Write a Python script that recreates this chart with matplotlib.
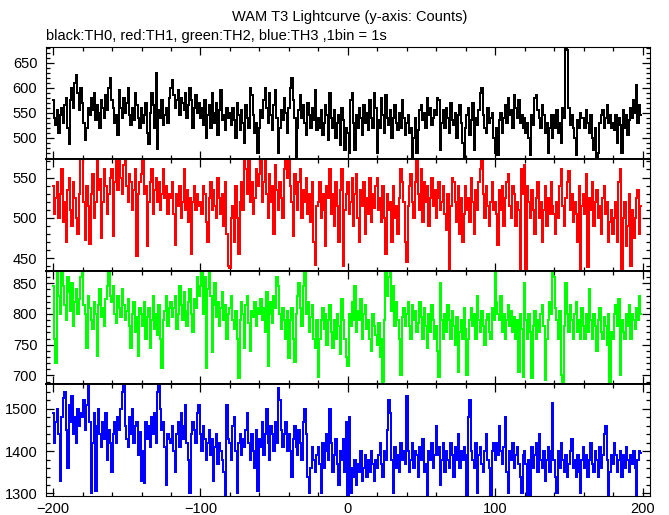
import numpy as np
import matplotlib
matplotlib.use("Agg")
import matplotlib.pyplot as plt
from matplotlib.ticker import MultipleLocator

plt.rcParams['font.family'] = ['Liberation Sans', 'DejaVu Sans']

title = "WAM T3 Lightcurve (y-axis: Counts)"
subtitle = "black:TH0, red:TH1, green:TH2, blue:TH3 ,1bin = 1s"

time_s = list(range(-200, 200))

th0 = [
    575, 540, 525, 555, 510, 545, 560, 530, 565, 580, 520, 488, 575, 600, 560, 610, 625, 590, 555, 600,
    570, 530, 495, 520, 560, 545, 580, 555, 590, 535, 565, 550, 520, 575, 560, 540, 585, 555, 600, 620,
    575, 560, 530, 545, 505, 595, 560, 540, 580, 550, 570, 600, 545, 525, 560, 535, 590, 565, 540, 520,
    560, 530, 545, 570, 510, 488, 550, 590, 565, 520, 630, 478, 555, 540, 575, 525, 545, 560, 530, 580,
    600, 615, 585, 560, 575, 595, 545, 580, 570, 555, 590, 540, 565, 600, 575, 520, 560, 585, 550, 570,
    540, 560, 525, 575, 500, 545, 565, 520, 590, 550, 530, 570, 505, 555, 595, 535, 545, 515, 560, 540,
    550, 525, 560, 535, 500, 570, 545, 515, 555, 530, 490, 565, 540, 520, 600, 585, 545, 510, 530, 470,
    520, 555, 540, 575, 600, 560, 530, 590, 545, 515, 565, 595, 540, 470, 520, 555, 535, 580, 550, 510,
    560, 600, 620, 575, 540, 458, 520, 555, 585, 540, 565, 530, 505, 570, 545, 520, 560, 535, 595, 515,
    540, 520, 555, 505, 530, 565, 545, 495, 590, 540, 520, 555, 500, 530, 545, 485, 560, 535, 475, 520,
    510, 470, 575, 590, 530, 475, 545, 520, 560, 540, 505, 565, 530, 550, 515, 575, 540, 520, 590, 560,
    470, 535, 520, 580, 545, 510, 585, 540, 525, 555, 500, 540, 565, 530, 515, 550, 520, 575, 540, 505,
    530, 545, 510, 520, 462, 500, 540, 470, 515, 555, 565, 535, 550, 520, 580, 545, 560, 525, 540, 555,
    545, 580, 575, 475, 530, 555, 520, 560, 540, 510, 570, 535, 525, 550, 500, 545, 565, 530, 490, 458,
    520, 545, 560, 505, 535, 570, 475, 540, 525, 555, 590, 600, 545, 520, 510, 560, 530, 540, 550, 500,
    470, 520, 465, 535, 550, 510, 540, 565, 530, 580, 545, 555, 520, 585, 560, 540, 575, 530, 545, 520,
    540, 510, 530, 500, 465, 545, 525, 580, 585, 555, 540, 520, 565, 545, 510, 530, 470, 520, 545, 500,
    545, 520, 555, 510, 530, 490, 560, 540, 690, 675, 560, 525, 545, 520, 500, 465, 535, 520, 550, 540,
    540, 520, 555, 530, 510, 545, 500, 475, 520, 460, 470, 530, 545, 555, 520, 540, 565, 530, 545, 520,
    530, 515, 545, 490, 540, 525, 470, 555, 520, 545, 505, 535, 560, 540, 575, 550, 605, 530, 565, 545,
]

th1 = [
    540, 505, 525, 545, 500, 530, 560, 495, 520, 470, 535, 550, 510, 490, 545, 525, 500, 480, 530, 575,
    575, 520, 472, 540, 515, 468, 530, 555, 500, 520, 575, 535, 548, 475, 520, 560, 540, 505, 530, 550,
    560, 478, 545, 570, 535, 575, 550, 530, 565, 575, 540, 520, 555, 545, 510, 535, 560, 452, 530, 545,
    555, 575, 530, 540, 465, 520, 545, 560, 505, 535, 550, 520, 545, 510, 530, 560, 525, 540, 505, 530,
    525, 545, 505, 466, 530, 515, 540, 500, 520, 560, 510, 535, 495, 525, 455, 520, 540, 510, 530, 515,
    520, 505, 540, 530, 495, 470, 525, 545, 510, 535, 515, 500, 550, 525, 505, 530, 490, 545, 480, 440,
    438, 500, 515, 470, 540, 500, 455, 520, 545, 510, 575, 560, 530, 575, 520, 545, 505, 525, 560, 540,
    555, 575, 520, 545, 575, 530, 500, 555, 520, 540, 480, 565, 535, 510, 545, 525, 500, 560, 575, 550,
    575, 540, 520, 478, 555, 530, 510, 545, 560, 500, 535, 520, 550, 505, 530, 495, 545, 470, 442, 515,
    520, 545, 500, 530, 510, 465, 540, 525, 560, 505, 530, 490, 545, 515, 470, 535, 560, 440, 510, 530,
    545, 505, 520, 550, 490, 530, 555, 500, 470, 535, 515, 545, 480, 525, 505, 550, 495, 530, 512, 540,
    550, 510, 525, 495, 540, 500, 455, 530, 510, 520, 470, 540, 500, 515, 480, 525, 560, 545, 520, 470,
    445, 515, 540, 555, 520, 500, 545, 575, 530, 510, 560, 495, 545, 520, 540, 490, 525, 550, 515, 535,
    500, 525, 545, 510, 520, 540, 505, 485, 530, 436, 515, 550, 545, 520, 495, 540, 480, 525, 470, 505,
    540, 510, 525, 495, 550, 520, 480, 535, 510, 545, 560, 575, 530, 500, 540, 515, 490, 520, 545, 510,
    520, 505, 466, 535, 510, 540, 490, 525, 545, 555, 515, 500, 540, 530, 490, 520, 510, 435, 560, 530,
    565, 437, 540, 520, 500, 535, 510, 480, 525, 545, 500, 520, 470, 510, 540, 490, 525, 505, 545, 515,
    505, 480, 520, 500, 540, 560, 515, 490, 525, 545, 558, 510, 530, 495, 520, 505, 470, 540, 437, 515,
    530, 505, 555, 439, 525, 510, 545, 490, 520, 535, 500, 515, 480, 525, 540, 505, 520, 470, 495, 510,
    480, 500, 520, 470, 545, 560, 437, 500, 520, 465, 490, 530, 440, 510, 475, 500, 525, 535, 480, 515,
]

th2 = [
    845, 760, 720, 870, 830, 800, 870, 845, 815, 790, 860, 835, 805, 850, 780, 820, 840, 800, 825, 860,
    870, 815, 800, 745, 830, 810, 790, 775, 820, 800, 732, 815, 840, 795, 810, 780, 825, 845, 870, 830,
    820, 845, 800, 785, 830, 810, 795, 840, 815, 790, 805, 825, 780, 745, 800, 820, 770, 795, 732, 810,
    800, 780, 820, 760, 795, 810, 745, 790, 830, 775, 800, 765, 815, 760, 712, 790, 805, 830, 780, 810,
    820, 795, 810, 830, 775, 800, 845, 815, 790, 835, 805, 780, 820, 840, 800, 770, 825, 810, 860, 830,
    845, 870, 800, 860, 712, 840, 870, 830, 738, 815, 850, 795, 820, 780, 810, 835, 790, 815, 760, 800,
    810, 830, 790, 775, 805, 760, 695, 790, 820, 800, 745, 815, 830, 785, 740, 805, 795, 820, 780, 810,
    800, 825, 790, 810, 770, 835, 715, 800, 820, 785, 830, 810, 860, 845, 800, 775, 810, 790, 760, 805,
    728, 790, 810, 760, 722, 800, 830, 850, 810, 780, 845, 870, 800, 820, 770, 795, 815, 760, 745, 790,
    698, 760, 790, 810, 775, 800, 750, 790, 815, 770, 745, 790, 760, 800, 780, 735, 825, 790, 760, 730,
    715, 800, 780, 820, 790, 845, 770, 805, 790, 825, 760, 800, 815, 775, 790, 760, 740, 800, 780, 765,
    750, 785, 730, 760, 690, 790, 870, 830, 860, 870, 805, 845, 780, 820, 790, 760, 700, 795, 810, 780,
    800, 820, 780, 760, 815, 790, 805, 770, 785, 820, 795, 760, 810, 780, 745, 800, 770, 815, 790, 760,
    780, 740, 698, 850, 790, 760, 800, 770, 815, 790, 760, 805, 780, 750, 795, 705, 770, 790, 760, 810,
    775, 700, 760, 790, 810, 780, 800, 760, 830, 790, 770, 805, 780, 750, 790, 800, 770, 760, 810, 790,
    870, 820, 800, 790, 830, 770, 800, 760, 790, 815, 780, 805, 770, 795, 760, 790, 705, 800, 775, 698,
    850, 790, 760, 800, 770, 696, 780, 805, 760, 790, 770, 800, 815, 780, 692, 760, 790, 820, 800, 870,
    860, 810, 790, 760, 805, 700, 690, 780, 850, 800, 770, 815, 790, 760, 800, 820, 770, 790, 760, 810,
    780, 760, 800, 770, 840, 790, 760, 800, 780, 740, 790, 810, 770, 760, 795, 780, 750, 800, 690, 770,
    760, 800, 815, 780, 825, 700, 790, 770, 760, 800, 780, 815, 760, 800, 790, 775, 810, 790, 830, 800,
]

th3 = [
    1490, 1420, 1470, 1500, 1440, 1330, 1480, 1525, 1540, 1450, 1360, 1510, 1470, 1530, 1440, 1480, 1420, 1500, 1460, 1490,
    1480, 1520, 1450, 1510, 1555, 1470, 1300, 1420, 1490, 1305, 1460, 1500, 1440, 1410, 1470, 1430, 1490, 1380, 1450, 1420,
    1350, 1440, 1470, 1420, 1480, 1450, 1500, 1540, 1560, 1460, 1430, 1410, 1480, 1440, 1500, 1420, 1460, 1470, 1390, 1445,
    1330, 1400, 1325, 1470, 1430, 1460, 1410, 1480, 1440, 1490, 1420, 1540, 1560, 1500, 1450, 1470, 1410, 1320, 1440, 1430,
    1420, 1460, 1400, 1350, 1440, 1470, 1410, 1490, 1430, 1460, 1510, 1420, 1380, 1300, 1440, 1470, 1450, 1420, 1490, 1510,
    1440, 1400, 1460, 1430, 1380, 1420, 1450, 1390, 1430, 1330, 1410, 1440, 1370, 1420, 1400, 1380, 1350, 1290, 1510, 1430,
    1420, 1380, 1460, 1480, 1400, 1300, 1420, 1440, 1390, 1430, 1410, 1450, 1490, 1420, 1380, 1440, 1400, 1360, 1450, 1305,
    1430, 1410, 1470, 1390, 1440, 1500, 1420, 1380, 1460, 1440, 1400, 1470, 1420, 1550, 1520, 1450, 1410, 1440, 1470, 1400,
    1440, 1400, 1340, 1430, 1460, 1410, 1390, 1450, 1420, 1380, 1470, 1500, 1440, 1340, 1300, 1360, 1410, 1380, 1350, 1390,
    1410, 1370, 1300, 1420, 1360, 1400, 1440, 1380, 1500, 1420, 1350, 1390, 1430, 1370, 1320, 1400, 1380, 1430, 1350, 1470,
    1290, 1480, 1300, 1360, 1340, 1380, 1320, 1370, 1350, 1400, 1330, 1360, 1390, 1340, 1380, 1350, 1400, 1370, 1330, 1380,
    1360, 1390, 1420, 1370, 1340, 1400, 1380, 1450, 1520, 1490, 1380, 1300, 1410, 1360, 1390, 1350, 1420, 1380, 1400, 1370,
    1530, 1400, 1350, 1380, 1420, 1360, 1400, 1390, 1340, 1410, 1380, 1430, 1350, 1370, 1290, 1400, 1380, 1420, 1360, 1390,
    1460, 1390, 1410, 1320, 1380, 1420, 1350, 1400, 1380, 1360, 1420, 1390, 1340, 1410, 1380, 1440, 1360, 1400, 1380, 1410,
    1390, 1290, 1480, 1520, 1400, 1380, 1360, 1420, 1300, 1390, 1410, 1370, 1350, 1400, 1440, 1380, 1360, 1295, 1400, 1420,
    1380, 1420, 1390, 1460, 1400, 1370, 1410, 1480, 1350, 1300, 1400, 1380, 1420, 1360, 1390, 1410, 1370, 1340, 1300, 1390,
    1400, 1370, 1290, 1380, 1295, 1410, 1360, 1390, 1420, 1350, 1440, 1380, 1360, 1400, 1330, 1380, 1410, 1350, 1400, 1515,
    1380, 1340, 1300, 1400, 1360, 1420, 1380, 1350, 1390, 1340, 1370, 1400, 1430, 1360, 1380, 1340, 1390, 1350, 1300, 1380,
    1410, 1360, 1390, 1340, 1380, 1420, 1370, 1350, 1400, 1380, 1340, 1410, 1360, 1390, 1440, 1460, 1380, 1295, 1350, 1390,
    1370, 1420, 1390, 1350, 1380, 1400, 1340, 1390, 1360, 1410, 1380, 1350, 1390, 1370, 1400, 1360, 1295, 1380, 1400, 1395,
]

series = [th0, th1, th2, th3]
colors = ["#000000", "#ff0000", "#00ff00", "#0000ff"]
ylims = [(457, 681), (434, 573), (686, 870), (1294, 1559)]
ymajor = [50, 50, 50, 100]
yminor = [10, 10, 10, 20]

W, H = 669, 515
fig = plt.figure(figsize=(W / 100, H / 100), dpi=100)

left_px, right_px = 45.7, 650
edges = [47, 159, 271, 384, 496]

for i, (ys, col) in enumerate(zip(series, colors)):
    top, bot = edges[i], edges[i + 1]
    ax = fig.add_axes([left_px / W, 1 - bot / H, (right_px - left_px) / W, (bot - top) / H])
    ax.plot(time_s, ys, color=col, lw=1.3, drawstyle="steps-mid", antialiased=False)
    ax.set_xlim(-205, 205)
    ax.set_ylim(*ylims[i])
    ax.xaxis.set_major_locator(MultipleLocator(100))
    ax.xaxis.set_minor_locator(MultipleLocator(20))
    ax.yaxis.set_major_locator(MultipleLocator(ymajor[i]))
    ax.yaxis.set_minor_locator(MultipleLocator(yminor[i]))
    ax.tick_params(which="both", direction="in", top=True, right=True, width=0.9, colors="black",
                   labelsize=10.5, pad=6)
    ax.tick_params(which="major", length=5.5)
    ax.tick_params(which="minor", length=3)
    ax.tick_params(axis="x", pad=4)
    if i < 3:
        ax.tick_params(axis="x", labelbottom=False)
    for s in ("left", "right"):
        ax.spines[s].set_linewidth(0.8)
    ax.spines["top"].set_linewidth(1.4 if i > 0 else 0.8)
    ax.spines["bottom"].set_linewidth(1.4 if i < 3 else 0.8)

fig.text(350 / W, 1 - 17 / H, title, ha="center", va="center", fontsize=10.5)
fig.text(46 / W, 1 - 36 / H, subtitle, ha="left", va="center", fontsize=10.5)

fig.savefig("out.png", dpi=100)
